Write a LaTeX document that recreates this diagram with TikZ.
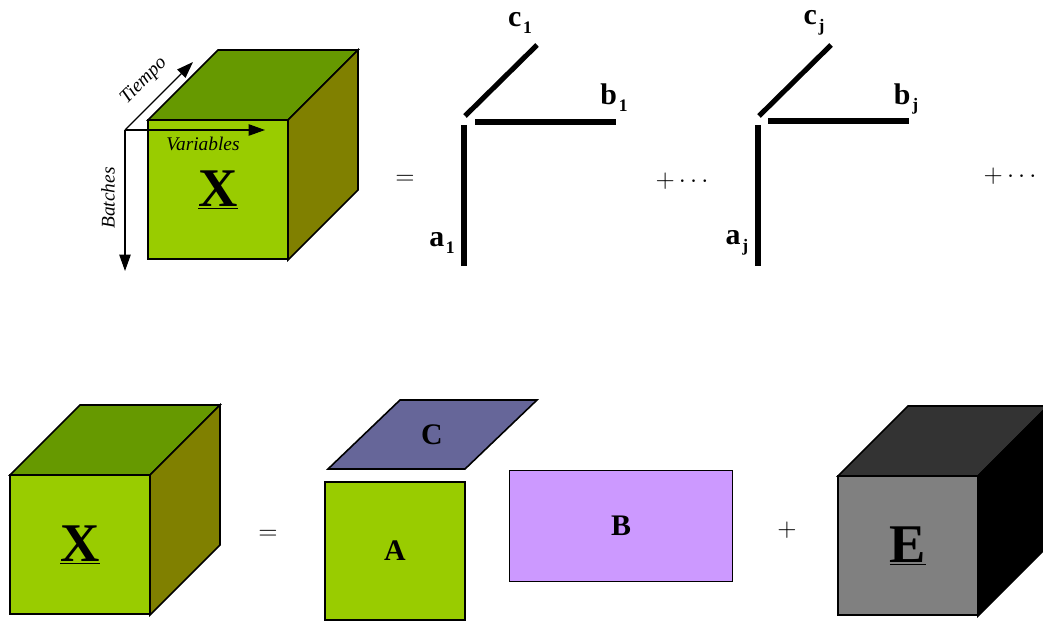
\documentclass[tikz,border=0pt]{standalone}
\usepackage{fontspec}
\setmainfont{Liberation Serif}
\usetikzlibrary{arrows.meta}
\definecolor{verde}{HTML}{99CC00}
\definecolor{verdeosc}{HTML}{669900}
\definecolor{oliva}{HTML}{808000}
\definecolor{malva}{HTML}{CC99FF}
\definecolor{azul}{HTML}{666699}
\definecolor{gris}{HTML}{808080}
\definecolor{grisosc}{HTML}{333333}

% cube: name, x, y (front top-left), front, top, side, letter
\newcommand{\cubo}[7]{%
  \filldraw[cara,fill=#5] (#2,#3) -- ++(70,-70) -- ++(140,0) -- ++(-70,70) -- cycle;
  \filldraw[cara,fill=#6] (#2+140,#3) -- ++(70,-70) -- ++(0,140) -- ++(-70,70) -- cycle;
  \filldraw[cara,fill=#4] (#2,#3) rectangle ++(140,139);
  \node[letra] (#1) at (#2+70,#3+70) {\underline{#7}};
}
\newcommand{\ind}[1]{\kern1pt\raisebox{-0.5ex}{\fontsize{10}{10}\selectfont #1}}

\begin{document}
\begin{tikzpicture}[
  x=0.02cm,y=-0.02cm,
  cara/.style={draw=black,line width=0.9pt,line join=miter},
  letra/.style={font=\fontsize{31}{31}\selectfont\bfseries,inner sep=0pt},
  mat/.style={draw=black,line width=0.9pt,font=\fontsize{17}{17}\selectfont\bfseries},
  vec/.style={line width=2.9pt},
  lab/.style={font=\fontsize{17}{17}\selectfont\bfseries,inner sep=1pt},
  eje/.style={-{Triangle[length=3.3mm,width=2.3mm]},line width=0.7pt},
  ejelab/.style={font=\fontsize{11}{11}\selectfont\itshape,inner sep=1pt},
  op/.style={font=\fontsize{14}{14}\selectfont}
]
\useasboundingbox (0,0) rectangle (1043,621);

% top row
\cubo{X1}{148}{120}{verde}{verdeosc}{oliva}{X}
\coordinate (o) at (125,130);
\coordinate (vv) at (265,130);
\coordinate (tt) at (193,62);
\coordinate (bb) at (125,271);
\draw[eje] (o) -- (vv);
\draw[eje] (o) -- (tt);
\draw[eje] (o) -- (bb);
\node[ejelab] (var) at (203,144) {Variables};
\node[ejelab,rotate=45] (tie) at (144,81) {Tiempo};
\node[ejelab,rotate=90] (bat) at (108,198) {Batches};

\node[op] (eq1) at (405,180) {$=$};

\coordinate (a1s) at (464,125); \coordinate (a1e) at (464,266);
\coordinate (b1s) at (475,122); \coordinate (b1e) at (616,122);
\coordinate (c1s) at (465,116); \coordinate (c1e) at (537,45);
\draw[vec] (a1s) -- (a1e);
\draw[vec] (b1s) -- (b1e);
\draw[vec] (c1s) -- (c1e);
\node[lab] (a1) at (442,243) {a\ind{1}};
\node[lab] (b1) at (614,98) {b\ind{1}};
\node[lab] (c1) at (520,23) {c\ind{1}};

\node[op] (mas1) at (682,181) {$+\cdots$};

\coordinate (ajs) at (758,125); \coordinate (aje) at (758,266);
\coordinate (bjs) at (768,121); \coordinate (bje) at (909,121);
\coordinate (cjs) at (759,116); \coordinate (cje) at (831,45);
\draw[vec] (ajs) -- (aje);
\draw[vec] (bjs) -- (bje);
\draw[vec] (cjs) -- (cje);
\node[lab] (aj) at (737,243) {a\ind{j}};
\node[lab] (bj) at (906,99) {b\ind{j}};
\node[lab] (cj) at (814,23) {c\ind{j}};

\node[op] (mas2) at (1010,176) {$+\cdots$};

% bottom row
\cubo{X2}{10}{475}{verde}{verdeosc}{oliva}{X}
\node[op] (eq2) at (268,535) {$=$};
\filldraw[cara,fill=azul] (328,469) -- (400,400) -- (537,400) -- (465,469) -- cycle;
\node[font=\fontsize{17}{17}\selectfont\bfseries] (C) at (432,435) {C};
\node[mat,fill=verde,minimum width=2.8cm,minimum height=2.76cm] (A) at (395,551) {A};
\node[mat,fill=malva,minimum width=4.46cm,minimum height=2.22cm] (B) at (621,526) {B};
\node[op] (mas3) at (787,530) {$+$};
\cubo{E}{838}{476}{gris}{grisosc}{black}{E}
\end{tikzpicture}
\end{document}
